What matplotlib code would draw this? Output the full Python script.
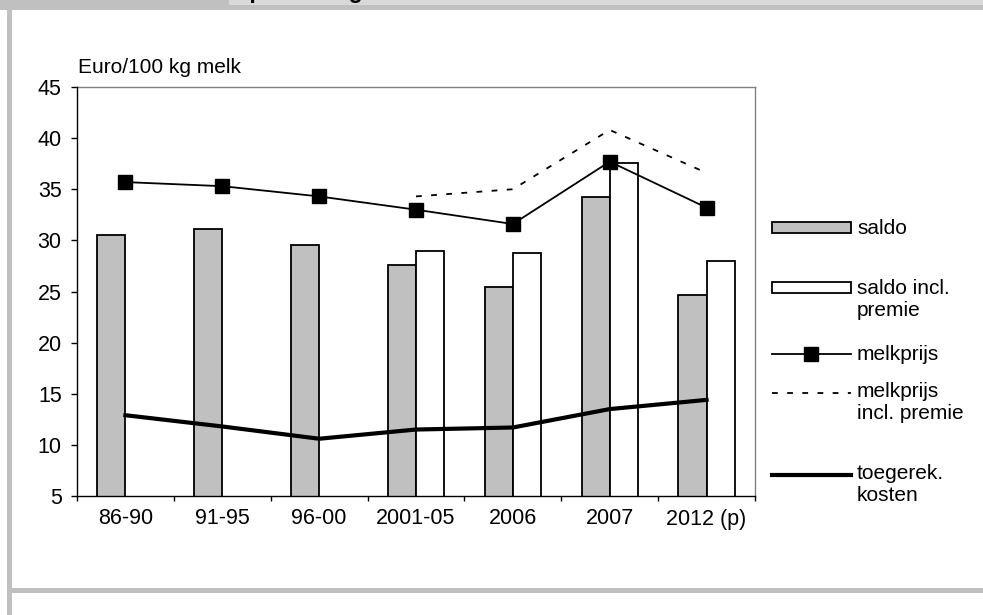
import matplotlib
matplotlib.use("Agg")
import matplotlib.pyplot as plt
from matplotlib.patches import Rectangle
from matplotlib.lines import Line2D
from matplotlib import font_manager
import numpy as np

categories = ["86-90", "91-95", "96-00", "2001-05", "2006", "2007", "2012 (p)"]
saldo = [30.5, 31.1, 29.5, 27.6, 25.4, 34.2, 24.7]
saldo_incl_premie = [None, None, None, 29.0, 28.8, 37.6, 28.0]
melkprijs = [35.7, 35.3, 34.3, 33.0, 31.6, 37.7, 33.2]
melkprijs_incl_premie = [None, None, None, 34.3, 35.0, 40.8, 36.6]
toegerek_kosten = [12.9, 11.8, 10.6, 11.5, 11.7, 13.5, 14.4]
yticks = [5, 10, 15, 20, 25, 30, 35, 40, 45]
ylabel = "Euro/100 kg melk"
legend_labels = ["saldo", "saldo incl.\npremie", "melkprijs", "melkprijs\nincl. premie", "toegerek.\nkosten"]

names = {f.name for f in font_manager.fontManager.ttflist}
fam = "Liberation Sans Narrow" if "Liberation Sans Narrow" in names else "Liberation Sans"
plt.rcParams['font.family'] = [fam, 'DejaVu Sans']

W, H = 983, 615
fig = plt.figure(figsize=(W / 100, H / 100), dpi=100)
fig.patch.set_facecolor("white")

def fx(px):
    return px / W

def fy(py):
    return 1 - py / H

def frect(x0, y0, x1, y1, color, z=0):
    fig.add_artist(Rectangle((fx(x0), fy(y1)), fx(x1) - fx(x0), fy(y0) - fy(y1),
                             transform=fig.transFigure, facecolor=color, edgecolor="none", zorder=z))

# frame decorations
frect(229, 0, W, 4.5, "#d9d9d9")
frect(229, 4.5, W, 10, "#c0c0c0", z=5)
frect(0, 0, 229, 10, "#c0c0c0", z=5)
frect(7, 10, 12, H, "#c0c0c0")
frect(12, 588, W, 593, "#c0c0c0")
fig.text(fx(181), fy(-2.0), "Saldo per 100 kg melk", fontsize=16.5, fontweight="bold",
         ha="left", va="baseline", color="black", zorder=2)

L, R, T, B = 77, 755, 87, 496
ax = fig.add_axes([fx(L), fy(B), fx(R) - fx(L), fy(T) - fy(B)])
x = np.arange(len(categories))
bw = 0.29
gray_c = "#c0c0c0"
ax.bar(x - bw / 2, saldo, width=bw, bottom=0, color=gray_c, edgecolor="black", linewidth=1.3, zorder=2)
si_x = [xi + bw / 2 for xi, v in zip(x, saldo_incl_premie) if v is not None]
si_v = [v for v in saldo_incl_premie if v is not None]
ax.bar(si_x, si_v, width=bw, color="white", edgecolor="black", linewidth=1.3, zorder=2)

ax.plot(x, melkprijs, color="black", linewidth=1.3, marker="s", markersize=9.5,
        markerfacecolor="black", markeredgecolor="black", zorder=4)
mp_x = [xi for xi, v in zip(x, melkprijs_incl_premie) if v is not None]
mp_v = [v for v in melkprijs_incl_premie if v is not None]
ax.plot(mp_x, mp_v, color="black", linewidth=1.3, linestyle=(0, (3.2, 5.2)), zorder=3)
ax.plot(x, toegerek_kosten, color="black", linewidth=3.0, solid_joinstyle="miter", zorder=3)

ax.set_xlim(-0.5, len(categories) - 0.5)
ax.set_ylim(5, 45)
ax.set_yticks(yticks)
ax.set_yticklabels([str(t) for t in yticks], fontsize=15.5)
ax.set_xticks(x)
ax.set_xticklabels(categories, fontsize=15.5)
ax.tick_params(axis="x", length=0, pad=9)
ax.set_xticks(np.arange(-0.5, len(categories)), minor=True)
ax.tick_params(axis="x", which="minor", length=3.6, width=1, direction="out")
ax.tick_params(axis="y", length=4.5, width=1, direction="out", pad=6.5)
for s in ["left", "bottom"]:
    ax.spines[s].set_color("black")
    ax.spines[s].set_linewidth(1.0)
for s in ["top", "right"]:
    ax.spines[s].set_color("#808080")
    ax.spines[s].set_linewidth(1.0)
ax.spines["left"].set_zorder(5)
ax.spines["bottom"].set_zorder(5)

fig.text(fx(78), fy(73), ylabel, fontsize=15, ha="left", va="baseline")

# legend (manual)
hx0, hx1, tx = 772, 851, 857
def ltext(py, s):
    fig.text(fx(tx), fy(py), s, fontsize=15, ha="left", va="top", linespacing=1.2)

fig.add_artist(Rectangle((fx(hx0), fy(233)), fx(hx1) - fx(hx0), fy(222) - fy(233), transform=fig.transFigure,
                         facecolor=gray_c, edgecolor="black", linewidth=1.3))
ltext(219, legend_labels[0])
fig.add_artist(Rectangle((fx(hx0), fy(293)), fx(hx1) - fx(hx0), fy(282) - fy(293), transform=fig.transFigure,
                         facecolor="white", edgecolor="black", linewidth=1.3))
ltext(279, legend_labels[1])
fig.add_artist(Line2D([fx(hx0), fx(hx1)], [fy(354), fy(354)], transform=fig.transFigure, color="black",
                      linewidth=1.3))
fig.add_artist(Line2D([fx(811)], [fy(354)], transform=fig.transFigure, color="black",
                      linestyle="none", marker="s", markersize=9.5))
ltext(345, legend_labels[2])
fig.add_artist(Line2D([fx(hx0), fx(hx1)], [fy(393), fy(393)], transform=fig.transFigure, color="black",
                      linewidth=1.3, linestyle=(0, (3.2, 5.2))))
ltext(382, legend_labels[3])
fig.add_artist(Line2D([fx(hx0), fx(hx1)], [fy(475), fy(475)], transform=fig.transFigure, color="black",
                      linewidth=3.0))
ltext(464, legend_labels[4])

fig.savefig("out.png", dpi=100)
